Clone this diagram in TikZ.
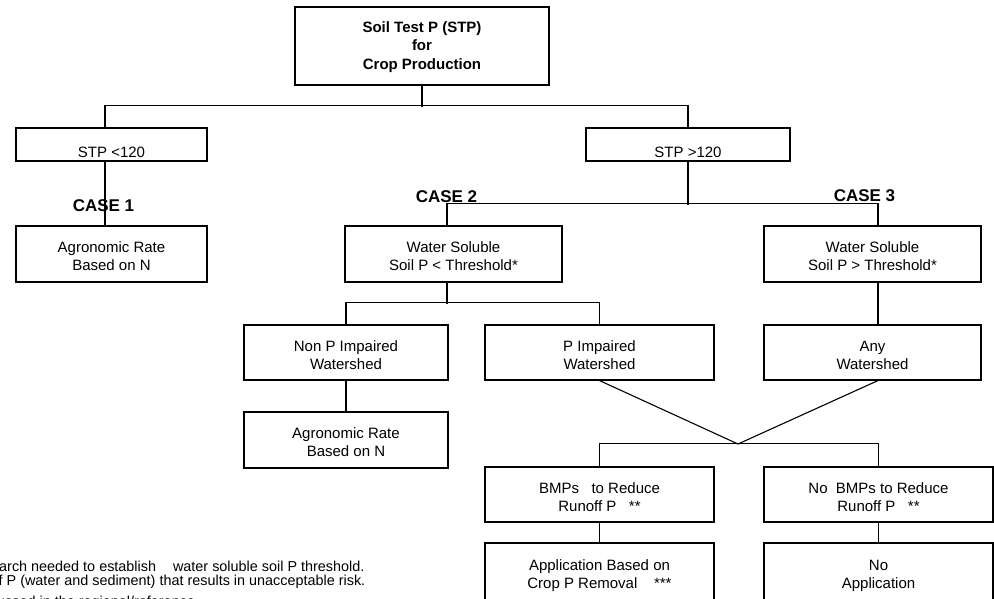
\documentclass[tikz,border=0pt]{standalone}
\usepackage{fontspec}
\setmainfont{Liberation Sans}

\begin{document}
\begin{tikzpicture}[x=1pt, y=-1pt,
        box/.style={draw, line width=1.1pt, inner sep=0pt, align=center,
            font=\fontsize{15}{18}\selectfont, text height=33pt, text depth=0pt,
            minimum height=55pt},
        casetext/.style={font=\fontsize{17}{20}\selectfont\bfseries},
        note/.style={font=\fontsize{14.4}{18}\selectfont, inner sep=0pt},
        link/.style={line width=1.1pt}]

            % Page
            \useasboundingbox (0,0) rectangle (994,598);

            % Soil test and the two STP ranges
            \node[box, minimum width=254pt, minimum height=78pt, text height=46pt,
                font=\fontsize{15}{18.5}\selectfont\bfseries] (stp) at (422,46) {Soil Test P (STP)\\for\\Crop Production};
            \node[box, minimum width=191pt, minimum height=33pt, text height=25pt] (low) at (111.5,144.5) {STP <120};
            \node[box, minimum width=204pt, minimum height=33pt, text height=25pt] (high) at (688,144.5) {STP >120};

            % Cases
            \node[casetext] (case1) at (103.5,206) {CASE 1};
            \node[casetext] (case2) at (446.5,197) {CASE 2};
            \node[casetext] (case3) at (864.5,196) {CASE 3};

            \node[box, minimum width=191pt, minimum height=56pt] (agr1) at (111.5,254) {Agronomic Rate\\Based on N};
            \node[box, minimum width=217pt, minimum height=56pt] (wslow) at (453.5,254) {Water Soluble\\Soil P < Threshold*};
            \node[box, minimum width=217pt, minimum height=56pt] (wshigh) at (872.5,254) {Water Soluble\\Soil P > Threshold*};

            % Watersheds
            \node[box, minimum width=204pt] (nonp) at (346,352.5) {Non P Impaired\\Watershed};
            \node[box, minimum width=229pt] (pimp) at (599.5,352.5) {P Impaired\\Watershed};
            \node[box, minimum width=217pt] (anyws) at (872.5,352.5) {Any\\Watershed};
            \node[box, minimum width=204pt, minimum height=56pt] (agr2) at (346,440) {Agronomic Rate\\Based on N};

            % BMPs and application
            \coordinate (meet) at (738,444);
            \node[box, minimum width=229pt] (bmp) at (599.5,494.5) {BMPs\ \ \ to Reduce\\Runoff P\ \ \ **};
            \node[box, minimum width=229pt] (nobmp) at (878.5,494.5) {No\ \ BMPs to Reduce\\Runoff P\ \ \ **};
            \node[box, minimum width=229pt, minimum height=57pt] (appl) at (599.5,571.5) {Application Based on\\Crop P Removal\ \ \ \ ***};
            \node[box, minimum width=229pt, minimum height=57pt] (noappl) at (878.5,571.5) {No\\Application};

            % Connectors
            \draw[link] (stp.south) -- ++(0,21);
            \draw[link] ([xshift=-6.5pt]low.north) -- ++(0,-22) -| (high.north);
            \draw[link] ([xshift=-6.5pt]low.south) -- ([xshift=-6.5pt]agr1.north);
            \draw[link] (high.south) -- ++(0,43);
            \draw[link] ([xshift=-6.5pt]wslow.north) -- ++(0,-22) -| ([xshift=5.5pt]wshigh.north);
            \draw[link] ([xshift=-6.5pt]wslow.south) -- ++(0,21);
            \draw[link] (nonp.north) -- ++(0,-22) -| (pimp.north);
            \draw[link] ([xshift=5.5pt]wshigh.south) -- ([xshift=5.5pt]anyws.north);
            \draw[link] (nonp.south) -- (agr2.north);
            \draw[link] (pimp.south) -- (meet) -- ([xshift=5.5pt]anyws.south);
            \draw[link] (bmp.north) -- ++(0,-23) -| (nobmp.north);
            \draw[link] (bmp.south) -- (appl.north);
            \draw[link] (nobmp.south) -- (noappl.north);

            % Notes
            \node[note, anchor=base west] (note1) at (-1,571.5) {arch needed to establish\hspace{17pt}water soluble soil P threshold.};
            \node[note, anchor=base west] (note2) at (-1.5,585) {f P (water and sediment) that results in unacceptable risk.};
            \node[note, anchor=base west] (note3) at (-3,606) {ussed in the regional/reference};
        \end{tikzpicture}
\end{document}
